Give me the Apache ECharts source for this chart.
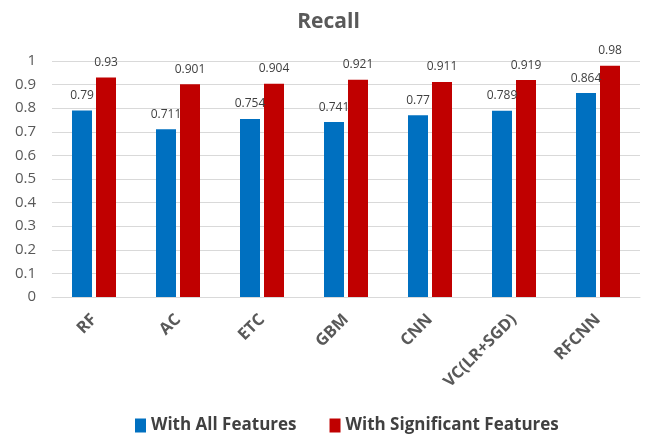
<!DOCTYPE html>
<html>
<head>
<meta charset="utf-8">
<script src="https://cdn.jsdelivr.net/npm/echarts@6/dist/echarts.min.js"></script>
<style>
  html, body { margin: 0; padding: 0; background: #fff; }
  #recall { width: 657px; height: 440px; }
</style>
</head>
<body>
<div id="recall"></div>
<script>
var models = ['RF', 'AC', 'ETC', 'GBM', 'CNN', 'VC(LR+SGD)', 'RFCNN'];
var allFeatures = [0.79, 0.711, 0.754, 0.741, 0.77, 0.789, 0.864];
var sigFeatures = [0.93, 0.901, 0.904, 0.921, 0.911, 0.919, 0.98];
var yTicks = [0, 0.1, 0.2, 0.3, 0.4, 0.5, 0.6, 0.7, 0.8, 0.9, 1];

var chart = echarts.init(document.getElementById('recall'));

var labelStyle = {
  show: true,
  position: 'top',
  distance: 9,
  color: '#404040',
  fontSize: 12,
  fontFamily: 'Open Sans'
};

var option = {
  animation: false,
  title: {
    text: 'Recall',
    left: 'center',
    top: 7,
    textStyle: { fontSize: 21, fontWeight: 'bold', color: '#595959', fontFamily: 'Open Sans' }
  },
  legend: {
    bottom: 1,
    left: 130,
    itemWidth: 11,
    itemHeight: 14,
    itemGap: 33,
    icon: 'rect',
    textStyle: { fontSize: 17, fontWeight: 'bold', color: '#404040', fontFamily: 'Open Sans' }
  },
  grid: { left: 52, right: 17, top: 61, bottom: 143 },
  xAxis: {
    type: 'category',
    data: models,
    axisTick: { show: false },
    axisLine: { lineStyle: { color: '#d9d9d9' } },
    axisLabel: {
      rotate: 45,
      margin: 20,
      fontSize: 16.5,
      fontWeight: 'bold',
      color: '#595959',
      fontFamily: 'Open Sans'
    }
  },
  yAxis: {
    type: 'value',
    min: yTicks[0],
    max: yTicks[yTicks.length - 1],
    interval: 0.1,
    axisLine: { show: false },
    axisTick: { show: false },
    splitLine: { lineStyle: { color: '#d9d9d9' } },
    axisLabel: {
      margin: 16,
      fontSize: 15,
      color: '#595959',
      fontFamily: 'Open Sans',
      formatter: function (v) { return String(Math.round(v * 10) / 10); }
    }
  },
  series: [
    {
      name: 'With All Features',
      type: 'bar',
      data: allFeatures,
      color: '#0070C0',
      barWidth: 20,
      barGap: '20%',
      label: labelStyle
    },
    {
      name: 'With Significant Features',
      type: 'bar',
      data: sigFeatures,
      color: '#C00000',
      barWidth: 20,
      label: labelStyle
    }
  ]
};

chart.setOption(option);
</script>
</body>
</html>
